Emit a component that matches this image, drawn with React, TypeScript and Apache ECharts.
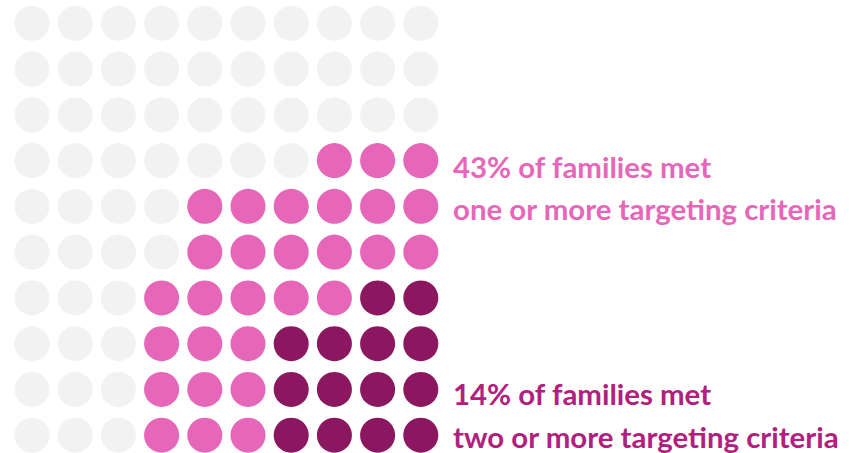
import React, { useEffect, useRef } from "react";
import * as echarts from "echarts";

const columns = [0, 1, 2, 3, 4, 5, 6, 7, 8, 9];
const rows = [0, 1, 2, 3, 4, 5, 6, 7, 8, 9];
// number of dots (counted from the right) per row that met one or more criteria
const oneOrMoreByRow = [0, 0, 0, 3, 6, 6, 7, 7, 7, 7];
// number of dots (counted from the right) per row that met two or more criteria
const twoOrMoreByRow = [0, 0, 0, 0, 0, 0, 2, 4, 4, 4];
const pctOneOrMore = 43;
const pctTwoOrMore = 14;
const labelOneOrMore = ["% of families met", "one or more targeting criteria"];
const labelTwoOrMore = ["% of families met", "two or more targeting criteria"];

const GREY = "#f2f2f2";
const PINK = "#e667b9";
const DARK = "#8a1760";
const DARK_TEXT = "#b0207f";

export default function App() {
  const ref = useRef<HTMLDivElement>(null);
  useEffect(() => {
    document.body.style.margin = "0";
    if (!ref.current) return;
    const chart = echarts.init(ref.current, null, { renderer: "svg" });
    const n = columns.length;
    const greyPts: number[][] = [];
    const pinkPts: number[][] = [];
    const darkPts: number[][] = [];
    rows.forEach((r) => {
      columns.forEach((c) => {
        const fromRight = n - 1 - c;
        if (fromRight < twoOrMoreByRow[r]) darkPts.push([c, r]);
        else if (fromRight < oneOrMoreByRow[r]) pinkPts.push([c, r]);
        else greyPts.push([c, r]);
      });
    });
    const mk = (data: number[][], color: string) => ({
      type: "scatter",
      data,
      symbol: "circle",
      symbolSize: 35,
      itemStyle: { color, opacity: 1 },
      silent: true,
    });
    const font = "Lato, 'Noto Sans', sans-serif";
    const txt = (x: number, y: number, text: string, color: string) => ({
      type: "text",
      left: x,
      top: y,
      style: { text, fill: color, font: `bold 29.4px ${font}` },
    });
    chart.setOption({
      animation: false,
      grid: { left: 10.4, width: 432, top: 0, bottom: 0 },
      xAxis: { type: "value", min: -0.5, max: 9.5, show: false },
      yAxis: { type: "value", min: -0.51, max: 9.39, inverse: true, show: false },
      series: [mk(greyPts, GREY), mk(pinkPts, PINK), mk(darkPts, DARK)],
      graphic: [
        txt(453, 152, pctOneOrMore + labelOneOrMore[0], PINK),
        txt(453, 194, labelOneOrMore[1], PINK),
        txt(453, 379, pctTwoOrMore + labelTwoOrMore[0], DARK_TEXT),
        txt(453, 422, labelTwoOrMore[1], DARK_TEXT),
      ],
    });
    return () => chart.dispose();
  }, []);
  return <div ref={ref} style={{ width: 849, height: 453 }} />;
}
